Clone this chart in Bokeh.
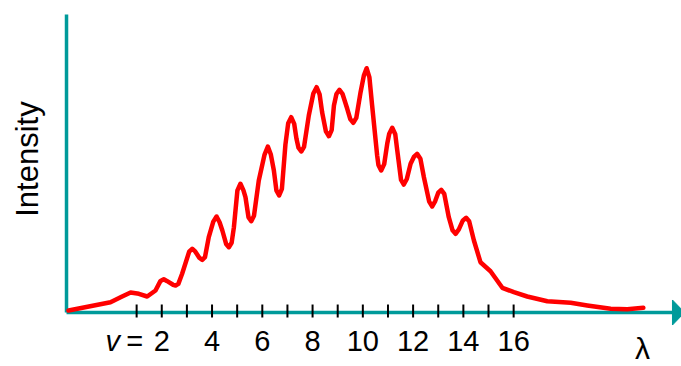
from bokeh.plotting import figure
from bokeh.embed import file_html
from bokeh.resources import INLINE
from bokeh.core.properties import value

# Vibrational quantum number axis (v) and intensity curve
wave_v = [-1.71, -0.04, 0.36, 0.76, 1.09, 1.42, 1.75,
          1.95, 2.08, 2.20, 2.45, 2.55, 2.66, 2.81,
          3.09, 3.21, 3.33, 3.50, 3.61, 3.72, 3.87,
          4.05, 4.18, 4.30, 4.41, 4.56, 4.67, 4.78, 4.87,
          5.01, 5.13, 5.25, 5.33, 5.45, 5.56, 5.67, 5.86,
          6.09, 6.22, 6.34, 6.46, 6.56, 6.67, 6.78, 6.92,
          7.03, 7.15, 7.27, 7.36, 7.44, 7.55, 7.66, 7.85,
          8.03, 8.16, 8.28, 8.38, 8.53, 8.65, 8.76, 8.85,
          8.95, 9.07, 9.19, 9.38, 9.50, 9.62, 9.74, 9.91,
          10.04, 10.15, 10.26, 10.37, 10.57, 10.62, 10.73, 10.85, 10.97,
          11.05, 11.17, 11.29, 11.37, 11.52, 11.63, 11.75, 11.90,
          12.03, 12.16, 12.29, 12.43, 12.64, 12.76, 12.88,
          13.00, 13.12, 13.24, 13.42, 13.57, 13.69, 13.82,
          13.98, 14.11, 14.23, 14.42, 14.68, 15.08, 15.55, 16.01, 16.54,
          17.34, 18.27, 18.93, 19.86, 20.52, 21.16]
intensity = [0.67, 3.46, 5.13, 6.71, 6.28, 5.37, 7.38,
             10.6, 11.17, 10.6, 9.3, 9.06, 9.6, 12.99,
             20.4, 21.38, 20.5, 18.3, 17.68, 18.6, 25.27,
             30.5, 32.21, 30.3, 27.52, 23.0, 21.91, 23.4, 28.62,
             41.0, 43.19, 41.0, 38.69, 32.0, 30.64, 32.5, 44.30,
             53.0, 55.70, 53.0, 47.65, 41.0, 39.26, 41.5, 56.38,
             63.5, 65.54, 63.3, 58.29, 55.3, 54.03, 55.6, 66.11,
             73.5, 75.60, 73.2, 67.21, 60.8, 59.16, 61.2, 69.46,
             73.3, 74.73, 73.4, 68.36, 64.9, 63.66, 65.3, 73.93,
             79.5, 81.98, 79.0, 69.46, 52.68, 49.5, 47.65, 49.8, 56.61,
             60.0, 61.98, 59.8, 54.36, 44.5, 42.95, 44.8, 49.90,
             52.2, 53.26, 51.6, 45.40, 37.2, 35.57, 37.4,
             40.2, 41.17, 39.8, 31.98, 27.6, 26.41, 27.9,
             30.9, 31.78, 30.6, 24.16, 16.88, 13.86, 8.29, 6.81, 5.37,
             3.79, 3.26, 2.35, 1.24, 1.11, 1.58]

tick_v = list(range(1, 17))
label_v = [2, 4, 6, 8, 10, 12, 14, 16]
label_text = ["2", "4", "6", "8", "10", "12", "14", "16"]

axis_x0 = -1.79      # where the vertical axis sits (in v units)
axis_top = 100.0     # top of intensity axis
axis_end = 22.32     # end of horizontal axis line (arrow base)
TEAL = "#009a9a"
FONT = "Liberation Sans"
LABEL_Y = -9.56

p = figure(width=681, height=366, x_range=(-4.4166, 22.679), y_range=(-18.12, 104.70),
           output_backend="svg", toolbar_location=None, min_border=0)
p.axis.visible = False
p.grid.visible = False
p.outline_line_color = None
p.background_fill_color = "white"
p.border_fill_color = "white"

# axes
p.segment(x0=[axis_x0], y0=[0], x1=[axis_x0], y1=[axis_top], line_color=TEAL, line_width=3.5)
p.segment(x0=[axis_x0], y0=[0], x1=[axis_end], y1=[0], line_color=TEAL, line_width=3.5)
p.patch(x=[axis_end, axis_end + 0.48, axis_end], y=[4.2, 0, -4.2],
        fill_color=TEAL, line_color=TEAL)

# ticks
p.segment(x0=tick_v, y0=[2.68] * len(tick_v), x1=tick_v, y1=[-1.68] * len(tick_v),
          line_color="black", line_width=2)

# curve
p.line(wave_v, intensity, line_color="#ff0000", line_width=4.5, line_join="round", line_cap="round")

# tick labels
p.text(x=label_v, y=[LABEL_Y] * len(label_v), text=label_text, text_align="center",
       text_baseline="middle", text_font=value(FONT), text_font_size="29px", text_color="black")
p.text(x=[2], y=[LABEL_Y], text=["v"], x_offset=-49, text_align="center",
       text_baseline="middle", text_font=value(FONT), text_font_style="italic",
       text_font_size="29px", text_color="black")
p.text(x=[2], y=[LABEL_Y], text=["="], x_offset=-27, text_align="center",
       text_baseline="middle", text_font=value(FONT), text_font_size="29px", text_color="black")

# axis titles
p.text(x=[-3.35], y=[51.5], text=["Intensity"], angle=1.5708, text_align="center",
       text_baseline="middle", text_font=value(FONT), text_font_size="31px", text_color="black")
p.text(x=[21.13], y=[-12.2], text=["λ"], text_align="center", text_baseline="middle",
       text_font=value(FONT), text_font_size="30px", text_color="black")

open("out.html", "w").write(file_html(p, INLINE))
